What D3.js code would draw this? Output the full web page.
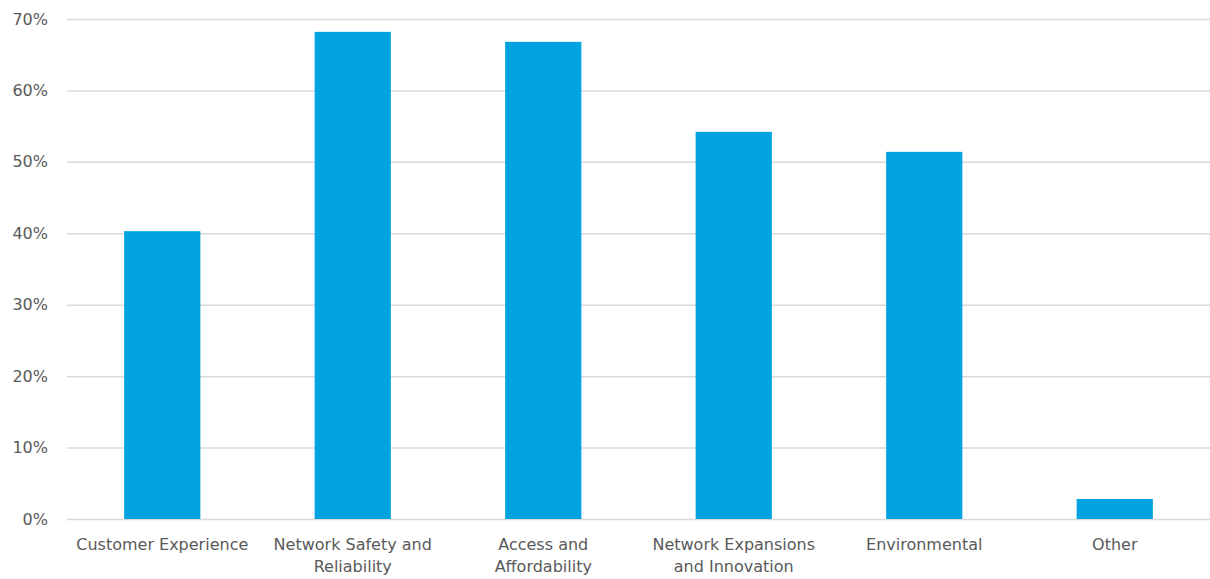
<!DOCTYPE html>
<html>
<head>
<meta charset="utf-8">
<script src="https://cdn.jsdelivr.net/npm/d3@7"></script>
<style>
  body { margin: 0; background: #fff; }
  text { font-family: "DejaVu Sans", sans-serif; fill: #595959; }
</style>
</head>
<body>
<div id="chart"></div>
<script>
// chart data
var categories = [
    ["Customer Experience"],
    ["Network Safety and", "Reliability"],
    ["Access and", "Affordability"],
    ["Network Expansions", "and Innovation"],
    ["Environmental"],
    ["Other"]
];
var values = [0.403, 0.682, 0.668, 0.542, 0.514, 0.028];
var yTicks = [0, 0.1, 0.2, 0.3, 0.4, 0.5, 0.6, 0.7];

var width = 1210, height = 579;
var margin = { top: 19, right: 0, bottom: 60, left: 67 };

var svg = d3.select("#chart").append("svg")
    .attr("width", width)
    .attr("height", height);

var x = d3.scaleBand()
    .domain(d3.range(categories.length))
    .range([margin.left, width - margin.right])
    .paddingInner(0.6)
    .paddingOuter(0.3);

var y = d3.scaleLinear()
    .domain([0, 0.7])
    .range([height - margin.bottom, margin.top]);

// gridlines + y labels
var yAxis = d3.axisLeft(y)
    .tickValues(yTicks)
    .tickFormat(d3.format(".0%"))
    .tickSize(-(width - margin.left - margin.right))
    .tickPadding(19);

var gy = svg.append("g")
    .attr("transform", "translate(" + margin.left + ",0)")
    .call(yAxis);
gy.select(".domain").remove();
gy.selectAll(".tick line")
    .attr("stroke", "#d9d9d9")
    .attr("stroke-width", 1.5);
gy.selectAll(".tick text")
    .style("font-size", "16px");

// bars
svg.append("g").selectAll("rect")
    .data(values)
    .join("rect")
    .attr("x", function(d, i) { return x(i); })
    .attr("width", x.bandwidth())
    .attr("y", function(d) { return y(d); })
    .attr("height", function(d) { return y(0) - y(d); })
    .attr("fill", "#00a3e0");

// x labels (wrapped)
var labels = svg.append("g").selectAll("text")
    .data(categories)
    .join("text")
    .attr("x", function(d, i) { return x(i) + x.bandwidth() / 2; })
    .attr("y", y(0) + 31)
    .attr("text-anchor", "middle")
    .style("font-size", "16px");
labels.selectAll("tspan")
    .data(function(d) { return d; })
    .join("tspan")
    .attr("x", function() { return this.parentNode.getAttribute("x"); })
    .attr("dy", function(d, i) { return i === 0 ? 0 : 22; })
    .text(function(d) { return d; });
</script>
</body>
</html>
